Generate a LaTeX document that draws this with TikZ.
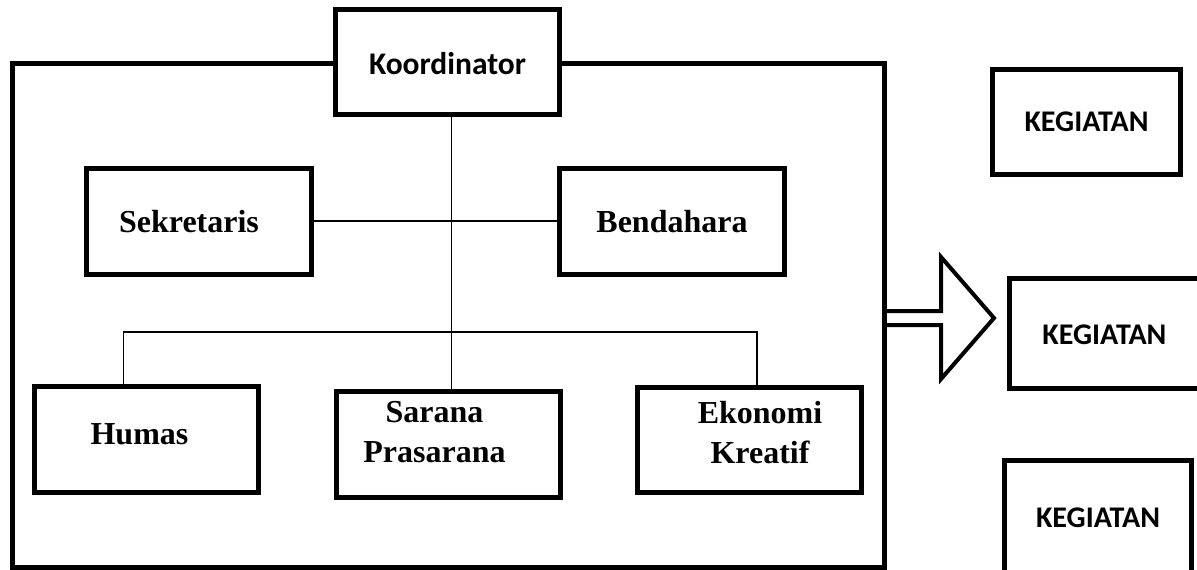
\documentclass[tikz,border=0pt]{standalone}
\usepackage{fontspec}
\setmainfont{Liberation Serif}
\newfontfamily\calibri{Carlito}
\begin{document}
\begin{tikzpicture}[x=0.5pt,y=-0.5pt,
  box/.style={draw, line width=2.5pt, inner sep=0pt, outer sep=0pt, fill=white},
  serifbold/.style={font=\fontsize{16}{20}\selectfont\bfseries, align=center},
  sansbold/.style={font=\fontsize{15.75}{19}\selectfont\calibri\bfseries},
  kegfont/.style={font=\fontsize{15}{18}\selectfont\calibri\bfseries},
  thinline/.style={line width=0.8pt},
  frameline/.style={line width=2.5pt, line join=miter},
  bigarrow/.style={line width=2pt, line join=miter}]
  \clip (0,0) rectangle (1197,569);

  % organisation boxes
  \node[box, minimum width=112pt, minimum height=52.5pt,
        label={[sansbold, yshift=-1pt]center:Koordinator}] (koord) at (447.5,62) {};
  \node[box, minimum width=112.5pt, minimum height=53pt,
        label={[serifbold, xshift=-5pt]center:Sekretaris}] (sek) at (199,221.5) {};
  \node[box, minimum width=112.5pt, minimum height=53pt,
        label={[serifbold]center:Bendahara}] (ben) at (672,221.5) {};
  \node[box, minimum width=112pt, minimum height=53pt,
        label={[serifbold, xshift=-3.5pt, yshift=2.5pt]center:Humas}] (humas) at (146.5,439.5) {};
  \node[box, minimum width=112pt, minimum height=53pt,
        label={[serifbold, xshift=-7pt, yshift=6pt]center:{Sarana\\Prasarana}}] (sarana) at (448.5,444.5) {};
  \node[box, minimum width=112pt, minimum height=52.5pt,
        label={[serifbold, xshift=5.25pt, yshift=3.5pt]center:{Ekonomi\\Kreatif}}] (ekonomi) at (749.5,440) {};

  % activity boxes
  \node[box, minimum width=94pt, minimum height=52.5pt,
        label={[kegfont]center:KEGIATAN}] (keg1) at (1086.5,122) {};
  \node[box, minimum width=97.75pt, minimum height=55pt,
        label={[kegfont, xshift=-1.4pt, yshift=-0.5pt]center:KEGIATAN}] (keg2) at (1107.25,333.5) {};
  \node[box, minimum width=93.5pt, minimum height=64.75pt,
        label={[kegfont, yshift=4pt]center:KEGIATAN}] (keg3) at (1098,525.25) {};

  % outer frame starting and ending at the coordinator box
  \coordinate (ftl) at (12,63.5);
  \coordinate (fbr) at (884,567);
  \draw[frameline] (koord.west |- ftl) -- (ftl) -- (ftl |- fbr) -- (fbr) -- (fbr |- ftl) -- (koord.east |- ftl);

  % connectors
  \coordinate (vx) at (451.5,0);
  \draw[thinline] (koord.south -| vx) -- (sarana.north -| vx);
  \draw[thinline] (sek.east |- 0,220.7) -- (ben.west |- 0,220.7);
  \coordinate (busl) at (123.6,331.7);
  \coordinate (busr) at (757,331.7);
  \draw[thinline] (humas.north -| busl) -- (busl) -- (busr) -- (ekonomi.north -| busr);

  % hollow arrow from the frame towards the activities
  \coordinate (atip) at (994,318);
  \draw[bigarrow] (fbr |- 0,311) -- (941,311) -- (941,257) -- (atip)
        -- (941,379) -- (941,325) -- (fbr |- 0,325);
\end{tikzpicture}
\end{document}
